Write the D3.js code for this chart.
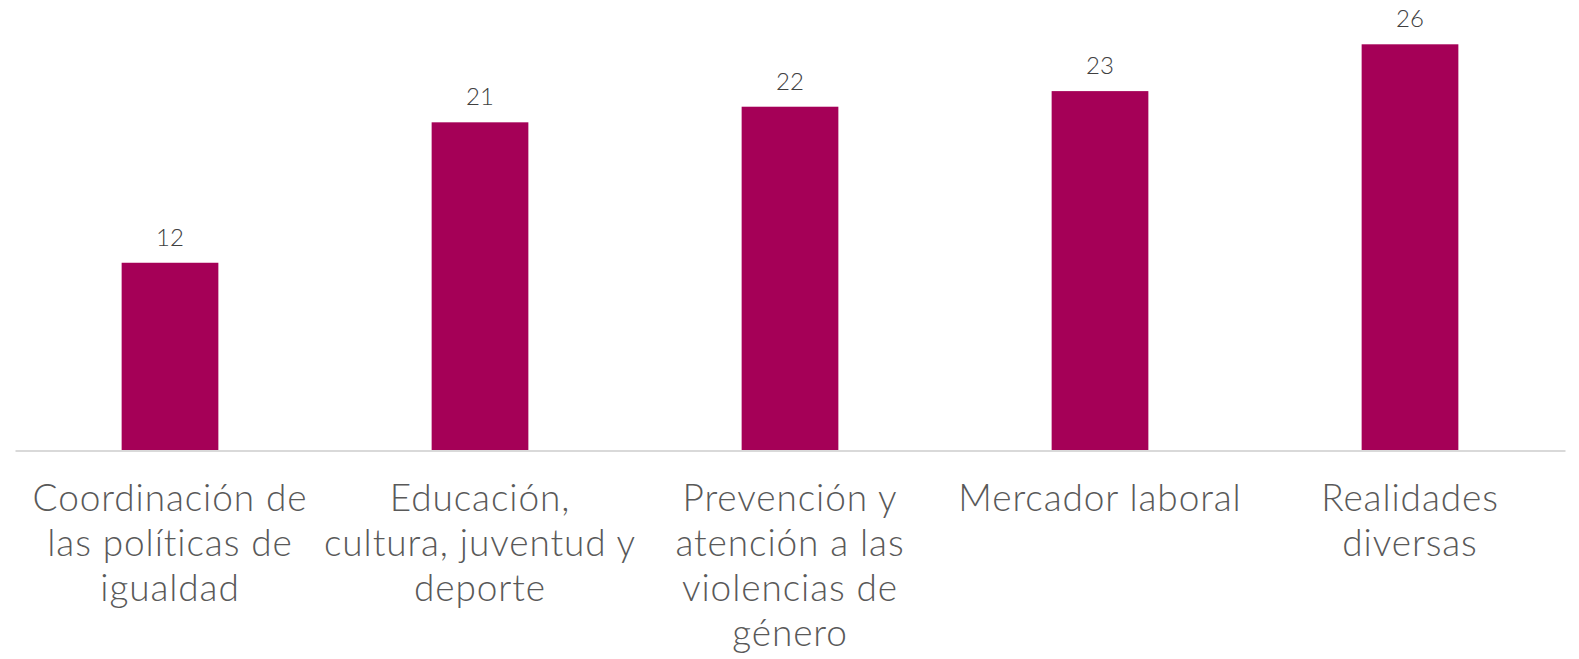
<!DOCTYPE html>
<html><head><meta charset="utf-8">
<script src="https://cdn.jsdelivr.net/npm/d3@7"></script>
<style>
html,body{margin:0;padding:0;background:#fff;}
svg{display:block;}
</style></head>
<body>
<script>
const categories = ["Coordinación de las políticas de igualdad","Educación, cultura, juventud y deporte","Prevención y atención a las violencias de género","Mercador laboral","Realidades diversas"];
const categoryLines = [
  ["Coordinación de","las políticas de","igualdad"],
  ["Educación,","cultura, juventud y","deporte"],
  ["Prevención y","atención a las","violencias de","género"],
  ["Mercador laboral"],
  ["Realidades","diversas"]
];
const values = [12, 21, 22, 23, 26];

const W = 1579, H = 659;
const svg = d3.select("body").append("svg").attr("width", W).attr("height", H);

const x = d3.scaleBand().domain(categories).range([15, 1565]).paddingInner(0.688).paddingOuter(0.344);
const y = d3.scaleLinear().domain([0, 26]).range([450, 44.3]);

svg.selectAll("rect.bar").data(values).join("rect")
  .attr("class","bar")
  .attr("x",(d,i)=>x(categories[i]))
  .attr("width",x.bandwidth())
  .attr("y",d=>y(d))
  .attr("height",d=>y(0)-y(d))
  .attr("fill","#A50057");

svg.selectAll("text.val").data(values).join("text")
  .attr("class","val")
  .attr("x",(d,i)=>x(categories[i])+x.bandwidth()/2)
  .attr("y",d=>y(d)-17)
  .attr("text-anchor","middle")
  .attr("font-family","Lato, 'Open Sans', sans-serif")
  .attr("font-weight",300)
  .attr("font-size",24)
  .attr("fill","#404040")
  .text(d=>d);

const axis = svg.append("g").attr("transform",`translate(0,${y(0)+0.5})`)
  .call(d3.axisBottom(x).tickSize(0).tickFormat(""));
axis.select(".domain").attr("stroke","#d9d9d9").attr("stroke-width",2);

const lab = svg.selectAll("text.cat").data(categories).join("text")
  .attr("class","cat")
  .attr("text-anchor","middle")
  .attr("font-family","Lato, 'Open Sans', sans-serif")
  .attr("font-weight",300)
  .attr("font-size",37)
  .attr("letter-spacing",0.9)
  .attr("fill","#595959");
lab.each(function(c,i){
  const t = d3.select(this);
  categoryLines[i].forEach((ln,j)=>{
    t.append("tspan").attr("x",x(c)+x.bandwidth()/2).attr("y",511+j*45).text(ln);
  });
});
</script>
</body></html>
